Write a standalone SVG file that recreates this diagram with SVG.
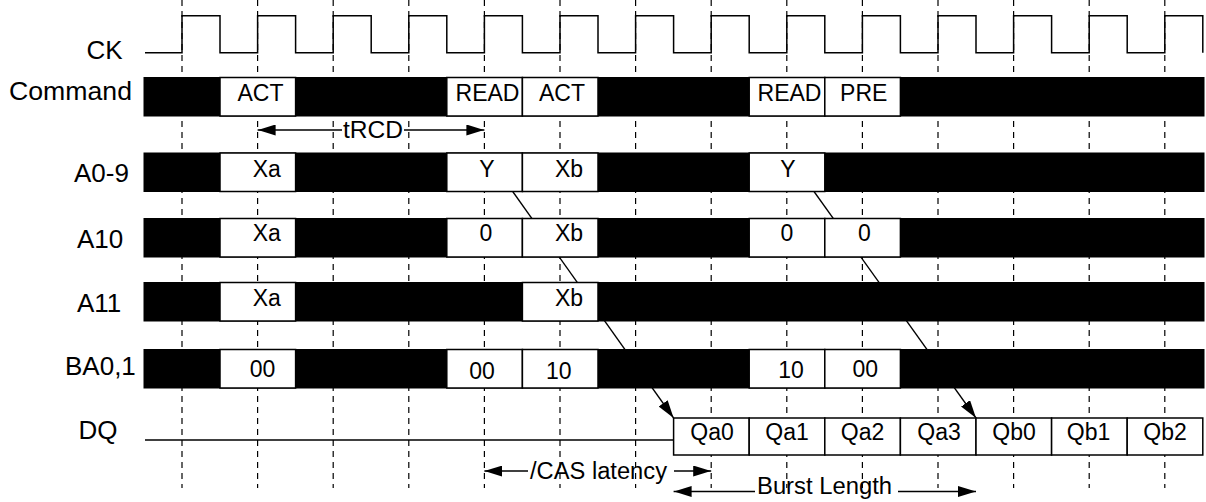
<svg xmlns="http://www.w3.org/2000/svg" width="1206" height="502" viewBox="0 0 1206 502">
<style>
  .grid line{stroke:#000;stroke-width:1.2;stroke-dasharray:6 5}
  .bar{fill:#000;stroke:#000;stroke-width:1}
  .box{fill:#fff;stroke:#000;stroke-width:1.5}
  .sig{fill:none;stroke:#000;stroke-width:1.5}
  .conn{fill:none;stroke:#000;stroke-width:1.3}
  .lbl{font-family:"Liberation Sans",Arial,sans-serif;font-size:26px;fill:#000}
  .bt{font-family:"Liberation Sans",Arial,sans-serif;font-size:23px;fill:#000;text-anchor:middle}
  .dim{font-family:"Liberation Sans",Arial,sans-serif;font-size:23px;fill:#000}
</style>
<defs>
  <marker id="ah" markerUnits="userSpaceOnUse" markerWidth="18" markerHeight="11" refX="18" refY="5.5" orient="auto-start-reverse" viewBox="0 0 18 11">
    <path d="M0,0 L18,5.5 L0,11 z" fill="#000"/>
  </marker>
</defs>
<rect width="1206" height="502" fill="#fff"/>

<g id="grid" class="grid">
  <line x1="182" y1="0" x2="182" y2="488"/>
  <line x1="257.6" y1="0" x2="257.6" y2="488"/>
  <line x1="333.2" y1="0" x2="333.2" y2="488"/>
  <line x1="408.8" y1="0" x2="408.8" y2="488"/>
  <line x1="484.4" y1="0" x2="484.4" y2="488"/>
  <line x1="560" y1="0" x2="560" y2="488"/>
  <line x1="635.6" y1="0" x2="635.6" y2="488"/>
  <line x1="711.2" y1="0" x2="711.2" y2="488"/>
  <line x1="786.8" y1="0" x2="786.8" y2="488"/>
  <line x1="862.4" y1="0" x2="862.4" y2="488"/>
  <line x1="938" y1="0" x2="938" y2="488"/>
  <line x1="1013.6" y1="0" x2="1013.6" y2="488"/>
  <line x1="1089.2" y1="0" x2="1089.2" y2="488"/>
  <line x1="1164.8" y1="0" x2="1164.8" y2="488"/>
</g>

<g id="connectors">
  <path class="conn" d="M512.7,191.5 L673.6,418" marker-end="url(#ah)"/>
  <path class="conn" d="M814,191.5 L976,418" marker-end="url(#ah)"/>
</g>

<g id="CK">
  <text class="lbl" x="86.5" y="59">CK</text>
  <path class="sig" d="M145,52.7 H182 V15.7 H220 V52.7 H257.6 V15.7 H295.6 V52.7 H333.2 V15.7 H371.2 V52.7 H408.8 V15.7 H446.8 V52.7 H484.4 V15.7 H522.4 V52.7 H560 V15.7 H598 V52.7 H635.6 V15.7 H673.6 V52.7 H711.2 V15.7 H749.2 V52.7 H786.8 V15.7 H824.8 V52.7 H862.4 V15.7 H900.4 V52.7 H938 V15.7 H976 V52.7 H1013.6 V15.7 H1051.6 V52.7 H1089.2 V15.7 H1127.2 V52.7 H1164.8 V15.7 H1202.8 V52.7"/>
</g>

<g id="Command">
  <text class="lbl" x="9" y="100" textLength="123" lengthAdjust="spacingAndGlyphs">Command</text>
  <rect class="bar" x="144" y="77.5" width="1060" height="38.5"/>
  <rect class="box" x="220" y="77.5" width="75.6" height="38.5"/>
  <rect class="box" x="446.8" y="77.5" width="75.6" height="38.5"/>
  <rect class="box" x="522.4" y="77.5" width="75.6" height="38.5"/>
  <rect class="box" x="749.2" y="77.5" width="75.6" height="38.5"/>
  <rect class="box" x="824.8" y="77.5" width="75.6" height="38.5"/>
  <text class="bt" x="260.5" y="100.5">ACT</text>
  <text class="bt" x="487.5" y="100.5">READ</text>
  <text class="bt" x="562" y="100.5">ACT</text>
  <text class="bt" x="789.5" y="100.5">READ</text>
  <text class="bt" x="863.7" y="100.5">PRE</text>
</g>

<g id="tRCD">
  <line class="conn" x1="257.6" y1="130" x2="342" y2="130" marker-start="url(#ah)"/>
  <line class="conn" x1="404" y1="130" x2="484.4" y2="130" marker-end="url(#ah)"/>
  <text class="dim" x="343" y="138" textLength="60" lengthAdjust="spacingAndGlyphs">tRCD</text>
</g>

<g id="A0-9">
  <text class="lbl" x="74" y="181.5">A0-9</text>
  <rect class="bar" x="144" y="153" width="1060" height="38.5"/>
  <rect class="box" x="220" y="153" width="75.6" height="38.5"/>
  <rect class="box" x="446.8" y="153" width="75.6" height="38.5"/>
  <rect class="box" x="522.4" y="153" width="75.6" height="38.5"/>
  <rect class="box" x="749.2" y="153" width="75.6" height="38.5"/>
  <text class="bt" x="266.7" y="176.5">Xa</text>
  <text class="bt" x="487" y="176.5">Y</text>
  <text class="bt" x="569" y="176.5">Xb</text>
  <text class="bt" x="788" y="176.5">Y</text>
</g>

<g id="A10">
  <text class="lbl" x="77" y="248">A10</text>
  <rect class="bar" x="144" y="218.5" width="1060" height="38.5"/>
  <rect class="box" x="220" y="218.5" width="75.6" height="38.5"/>
  <rect class="box" x="446.8" y="218.5" width="75.6" height="38.5"/>
  <rect class="box" x="522.4" y="218.5" width="75.6" height="38.5"/>
  <rect class="box" x="749.2" y="218.5" width="75.6" height="38.5"/>
  <rect class="box" x="824.8" y="218.5" width="75.6" height="38.5"/>
  <text class="bt" x="266.7" y="241">Xa</text>
  <text class="bt" x="486" y="241">0</text>
  <text class="bt" x="569" y="241">Xb</text>
  <text class="bt" x="787" y="241">0</text>
  <text class="bt" x="864.5" y="241">0</text>
</g>

<g id="A11">
  <text class="lbl" x="77" y="312">A11</text>
  <rect class="bar" x="144" y="282.5" width="1060" height="38.5"/>
  <rect class="box" x="220" y="282.5" width="75.6" height="38.5"/>
  <rect class="box" x="522.4" y="282.5" width="75.6" height="38.5"/>
  <text class="bt" x="266.7" y="306">Xa</text>
  <text class="bt" x="569" y="306">Xb</text>
</g>

<g id="BA0_1">
  <text class="lbl" x="65" y="375">BA0,1</text>
  <rect class="bar" x="144" y="349.5" width="1060" height="38.5"/>
  <rect class="box" x="220" y="349.5" width="75.6" height="38.5"/>
  <rect class="box" x="446.8" y="349.5" width="75.6" height="38.5"/>
  <rect class="box" x="522.4" y="349.5" width="75.6" height="38.5"/>
  <rect class="box" x="749.2" y="349.5" width="75.6" height="38.5"/>
  <rect class="box" x="824.8" y="349.5" width="75.6" height="38.5"/>
  <text class="bt" x="262.5" y="377">00</text>
  <text class="bt" x="482" y="379">00</text>
  <text class="bt" x="558.7" y="379">10</text>
  <text class="bt" x="791" y="378">10</text>
  <text class="bt" x="865.3" y="377">00</text>
</g>

<g id="DQ">
  <text class="lbl" x="78.5" y="439">DQ</text>
  <line class="sig" x1="145" y1="440" x2="673.6" y2="440"/>
  <rect class="box" x="673.6" y="418" width="75.6" height="37"/>
  <rect class="box" x="749.2" y="418" width="75.6" height="37"/>
  <rect class="box" x="824.8" y="418" width="75.6" height="37"/>
  <rect class="box" x="900.4" y="418" width="75.6" height="37"/>
  <rect class="box" x="976" y="418" width="75.6" height="37"/>
  <rect class="box" x="1051.6" y="418" width="75.6" height="37"/>
  <rect class="box" x="1127.2" y="418" width="75.6" height="37"/>
  <text class="bt" x="712" y="440">Qa0</text>
  <text class="bt" x="787" y="440">Qa1</text>
  <text class="bt" x="862.5" y="440">Qa2</text>
  <text class="bt" x="939" y="440">Qa3</text>
  <text class="bt" x="1014" y="440">Qb0</text>
  <text class="bt" x="1088.5" y="440">Qb1</text>
  <text class="bt" x="1165" y="440">Qb2</text>
</g>

<g id="CAS_latency">
  <line class="conn" x1="484.4" y1="471" x2="528" y2="471" marker-start="url(#ah)"/>
  <line class="conn" x1="674" y1="471" x2="711.2" y2="471" marker-end="url(#ah)"/>
  <text class="dim" x="530" y="478.5" textLength="137" lengthAdjust="spacingAndGlyphs">/CAS latency</text>
</g>

<g id="Burst_Length">
  <line class="conn" x1="673.6" y1="491.5" x2="755" y2="491.5" marker-start="url(#ah)"/>
  <line class="conn" x1="898" y1="491.5" x2="976" y2="491.5" marker-end="url(#ah)"/>
  <text class="dim" x="757" y="494" textLength="135" lengthAdjust="spacingAndGlyphs">Burst Length</text>
</g>
</svg>
